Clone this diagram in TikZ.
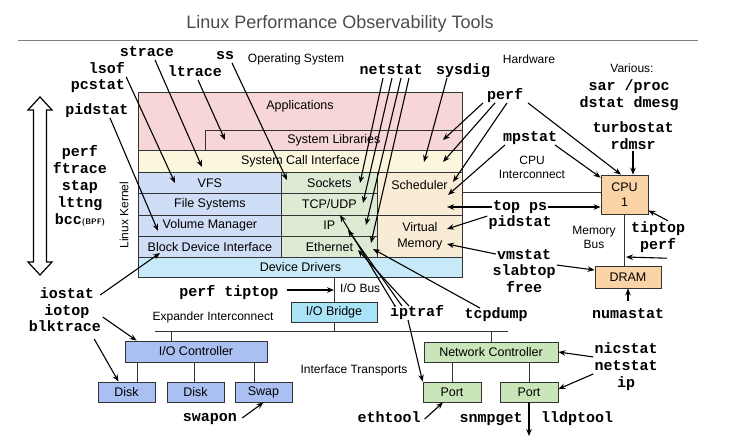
\documentclass[tikz,border=0pt]{standalone}
\usepackage{fontspec}
\setmainfont{Liberation Sans}
\newfontfamily\toolfont{Liberation Mono}
\usetikzlibrary{arrows.meta}
\definecolor{appfill}{RGB}{246,214,214}
\definecolor{sysfill}{RGB}{251,247,220}
\definecolor{blkfill}{RGB}{207,221,246}
\definecolor{netfill}{RGB}{222,235,212}
\definecolor{schedfill}{RGB}{249,236,214}
\definecolor{drvfill}{RGB}{200,234,248}
\definecolor{bridgefill}{RGB}{170,226,246}
\definecolor{iofill}{RGB}{170,191,242}
\definecolor{nicfill}{RGB}{200,230,185}
\definecolor{hwfill}{RGB}{250,212,166}
\tikzset{
  cell/.style={draw=black!80, line width=0.8pt, anchor=north west, inner sep=0pt, font=\fontsize{12.5}{14}\selectfont},
  celltext/.style={inner sep=0pt, font=\fontsize{12.5}{14}\selectfont, align=center},
  hwbox/.style={draw=black!80, line width=0.8pt, inner sep=0pt, align=center, font=\fontsize{12.5}{15}\selectfont},
  tool/.style={font=\toolfont\bfseries\fontsize{15}{17}\selectfont, inner sep=1pt, text height=9pt, text depth=2.5pt},
  tools/.style={font=\toolfont\bfseries\fontsize{15}{17}\selectfont, inner sep=1pt, align=center},
  note/.style={font=\fontsize{12}{14}\selectfont, inner sep=1pt, align=center},
  tip/.style={-{Stealth[length=7pt,width=5.5pt]}, line width=1.1pt},
  bus/.style={draw=black!80, line width=0.9pt},
}
\begin{document}
\begin{tikzpicture}[x=1pt,y=-1pt]
\useasboundingbox (0,0) rectangle (730,442);
\fill[white] (0,0) rectangle (730,442);
\node[font=\fontsize{18}{20}\selectfont, text=black!70] (title) at (340,24) {Linux Performance Observability Tools};
\draw[black!50, line width=0.8pt] (18,40) -- (698,40);

\node[cell, fill=appfill, minimum width=324pt, minimum height=58pt] (apps) at (138,92) {};
\node[celltext] (appstext) at (300,106) {Applications};
\node[cell, fill=appfill, minimum width=257pt, minimum height=20pt] (syslib) at (205,130) {System Libraries};
\node[cell, fill=sysfill, minimum width=324pt, minimum height=22pt] (syscall) at (138,150) {System Call Interface};
\foreach \name/\txt [count=\i from 0] in {vfs/VFS, fs/File Systems, vol/Volume Manager, bdi/Block Device Interface}
  \node[cell, fill=blkfill, minimum width=143pt, minimum height=21.25pt] (\name) at (138,{172+21.25*\i}) {\txt};
\foreach \name/\txt [count=\i from 0] in {sock/Sockets, tcp/{TCP/UDP}, ip/IP, eth/Ethernet}
  \node[cell, fill=netfill, minimum width=96pt, minimum height=21.25pt] (\name) at (281,{172+21.25*\i}) {\txt};
\node[cell, fill=schedfill, minimum width=85pt, minimum height=42.5pt] (sched) at (377,172) {};
\node[celltext] (schedtext) at (419.5,185) {Scheduler};
\node[cell, fill=schedfill, minimum width=85pt, minimum height=42.5pt, align=center, font=\fontsize{12.5}{16}\selectfont] (vm) at (377,214.5) {Virtual\\Memory};
\node[cell, fill=drvfill, minimum width=324pt, minimum height=20pt] (drv) at (138,257) {Device Drivers};

\node[hwbox, fill=hwfill, minimum width=47pt, minimum height=39pt] (cpu) at (624.5,194.5) {CPU\\1};
\node[hwbox, fill=hwfill, minimum width=66pt, minimum height=22pt] (dram) at (628,277) {DRAM};
\node[hwbox, fill=bridgefill, minimum width=86pt, minimum height=20pt] (iob) at (334,312) {I/O Bridge};
\node[hwbox, fill=iofill, minimum width=142pt, minimum height=21pt] (ioctl) at (196,351.5) {I/O Controller};
\node[hwbox, fill=iofill, minimum width=57pt, minimum height=20pt] (disk1) at (126.5,392) {Disk};
\node[hwbox, fill=iofill, minimum width=57pt, minimum height=20pt] (disk2) at (195.5,392) {Disk};
\node[hwbox, fill=iofill, minimum width=57pt, minimum height=20pt] (swap) at (263.5,392) {Swap};
\node[hwbox, fill=nicfill, minimum width=134pt, minimum height=20pt] (nc) at (491,352) {Network Controller};
\node[hwbox, fill=nicfill, minimum width=58pt, minimum height=20pt] (port1) at (452,392) {Port};
\node[hwbox, fill=nicfill, minimum width=58pt, minimum height=20pt] (port2) at (529,392) {Port};

\coordinate (icr) at ([yshift=2.5pt]cpu.west);
\draw[bus] (icr) -- (icr -| sched.east);
\draw[bus] (cpu.south) -- (cpu.south |- dram.north);
\draw[bus] (iob.north |- drv.south) -- (iob.north);
\coordinate (expl) at (155,331);
\coordinate (expr) at (508,331);
\draw[bus] (expl) -- (expr);
\draw[bus] (iob.south) -- (iob.south |- expl);
\coordinate (ioup) at ([xshift=47pt]ioctl.north west);
\draw[bus] (ioup) -- (ioup |- expl);
\draw[bus] (nc.north) -- (nc.north |- expl);
\foreach \dx/\d in {13/d1, 70/d2, 130/d3} {
  \coordinate (\d) at ([xshift=\dx pt]ioctl.south west);
  \draw[bus] (\d) -- (\d |- disk1.north);
}
\draw[bus] (port1.north) -- (port1.north |- nc.south);
\draw[bus] (port2.north) -- (port2.north |- nc.south);

\draw[line width=1.2pt, fill=white] (40,97) -- (52,110) -- (46.5,110) -- (46.5,262) -- (52,262) -- (40,275)
  -- (28,262) -- (33.5,262) -- (33.5,110) -- (28,110) -- cycle;

\node[note] (os) at (296,59) {Operating System};
\node[note] (hw) at (529,59) {Hardware};
\node[note] (various) at (632,68) {Various:};
\node[note] (cpuic) at (532,167) {CPU\\Interconnect};
\node[note] (membus) at (594,237) {Memory\\Bus};
\node[note, anchor=west] (iobus) at (339,288) {I/O Bus};
\node[note] (expic) at (213,317) {Expander Interconnect};
\node[note] (iftr) at (354,370) {Interface Transports};
\node[note, rotate=90] (lk) at (124,215) {Linux Kernel};

\node[tool] (strace) at (147,53) {strace};
\node[tool] (lsof) at (107,70) {lsof};
\node[tool] (pcstat) at (98,86) {pcstat};
\node[tool] (ltrace) at (195,73) {ltrace};
\node[tool] (ss) at (225,56) {ss};
\node[tool] (pidstatl) at (97,111) {pidstat};
\node[tools] (kerntools) at (80,186) {perf\\ftrace\\stap\\lttng\\bcc{\sffamily\bfseries\fontsize{8}{9}\selectfont(BPF)}};
\node[tool] (netstat) at (391,71) {netstat};
\node[tool] (sysdig) at (463,71) {sysdig};
\node[tool] (perfhw) at (505,96) {perf};
\node[tools] (sarproc) at (629,95) {sar /proc\\dstat dmesg};
\node[tools] (turbo) at (633,136) {turbostat\\rdmsr};
\node[tool] (mpstat) at (530,138) {mpstat};
\node[tool] (topps) at (520,207) {top ps};
\node[tool] (pidstatr) at (520,223) {pidstat};
\node[tools] (tiptopr) at (658,237.5) {tiptop\\perf};
\node[tool] (vmstat) at (524,256) {vmstat};
\node[tool] (slabtop) at (524,272) {slabtop};
\node[tool] (free) at (524,289) {free};
\node[tool] (numastat) at (628,315) {numastat};
\node[tool] (iostat) at (67,295) {iostat};
\node[tool] (iotop) at (67,312) {iotop};
\node[tool] (blktrace) at (65,328) {blktrace};
\node[tool] (perftiptop) at (229,293) {perf tiptop};
\node[tool] (swapon) at (210,418) {swapon};
\node[tool] (iptraf) at (417,313) {iptraf};
\node[tool] (tcpdump) at (496,315) {tcpdump};
\node[tool] (nicstat) at (626,350) {nicstat};
\node[tool] (netstatn) at (626,367) {netstat};
\node[tool] (ipn) at (626,384) {ip};
\node[tool] (ethtool) at (389,419) {ethtool};
\node[tool] (snmpget) at (491,419) {snmpget};
\node[tool] (lldptool) at (577,419) {lldptool};

\coordinate (t-strace) at (202,167);
\coordinate (t-lsof) at (175,183);
\coordinate (t-ltrace) at (225,140);
\coordinate (t-ss) at (287,180);
\coordinate (t-pidstat) at (158,231);
\coordinate (t-sysdig) at (424,162);
\coordinate (t-mpstat) at (448,195);
\coordinate (t-topps) at (447,207);
\coordinate (t-pidstatr) at (447,229);
\coordinate (t-vmstat) at (447,244);
\coordinate (t-bus) at (626,257);
\coordinate (t-iostat) at (160,253);
\coordinate (t-tcpdump) at (373,249);
\coordinate (nicout) at (529,436);
\coordinate (n1) at (360,183);
\coordinate (n2) at (363,203);
\coordinate (n3) at (366,225);
\coordinate (n4) at (371,243);
\coordinate (p1) at (443,140);
\coordinate (p2) at (443,162);
\coordinate (p3) at (453,182);
\coordinate (i1) at (340,215);
\coordinate (i2) at (348,230);
\coordinate (i3) at (358,250);

\draw[tip] ([xshift=8pt]strace.south) -- (t-strace);
\draw[tip] (lsof.south east) -- (t-lsof);
\draw[tip] ([xshift=3pt]ltrace.south) -- (t-ltrace);
\draw[tip] ([xshift=7pt]ss.south) -- (t-ss);
\draw[tip] ([xshift=13pt]pidstatl.south) -- (t-pidstat);
\foreach \dx/\t in {-8/n1, 1/n2, 10/n3, 18/n4}
  \draw[tip] ([xshift=\dx pt]netstat.south) -- (\t);
\draw[tip] ([xshift=-16pt]sysdig.south) -- (t-sysdig);
\foreach \dx/\t in {-22/p1, -10/p2, 2/p3}
  \draw[tip] ([xshift=\dx pt]perfhw.south) -- (\t);
\draw[tip] ([xshift=23pt]perfhw.south) -- ([xshift=-3.5pt]cpu.north);
\draw[tip] ([xshift=-25pt]mpstat.south) -- (t-mpstat);
\draw[tip] ([xshift=25pt]mpstat.south) -- ([yshift=-3pt]cpu.north west);
\draw[tip] (turbo.south) -- (turbo.south |- cpu.north);
\draw[tip] (topps.west) -- (t-topps);
\draw[tip] (topps.east) -- (topps.east -| cpu.west);
\draw[tip] (pidstatr.north west) -- (t-pidstatr);
\draw[tip] ([yshift=2pt]vmstat.west) -- (t-vmstat);
\draw[tip] (slabtop.north east) -- ([yshift=7pt]dram.west);
\draw[tip] ([xshift=10pt]tiptopr.north) -- ([yshift=4pt]cpu.south east);
\draw[tip] ([xshift=9pt,yshift=-4pt]tiptopr.south) -- (t-bus);
\draw[tip] ([yshift=7pt]numastat.north) -- (dram.south);
\draw[tip] ([xshift=5pt]iostat.east) -- (t-iostat);
\draw[tip] ([xshift=12pt,yshift=-5pt]iotop.east) -- ([xshift=12pt]ioctl.north west);
\draw[tip] ([xshift=-8pt,yshift=-4pt]blktrace.south east) -- ([xshift=-8pt]disk1.north);
\coordinate (ptstart) at ([xshift=7pt,yshift=3pt]perftiptop.east);
\draw[tip] (ptstart) -- (ptstart -| iob.north);
\draw[tip] ([xshift=4pt]swapon.east) -- (swap.south);
\foreach \dx/\t in {-22/i1, -15/i2, -8/i3}
  \draw[tip] ([xshift=\dx pt]iptraf.north) -- (\t);
\draw[tip] ([xshift=-9pt]iptraf.south) -- (port1.north west);
\draw[tip] ([xshift=-16pt]tcpdump.north) -- (t-tcpdump);
\draw[tip] (nicstat.south west) -- (nc.east);
\draw[tip] (netstatn.south west) -- ([yshift=3pt]port2.east);
\draw[tip] ([xshift=3pt]ethtool.east) -- ([xshift=-9pt]port1.south);
\draw[tip] (port2.south) -- (nicout);
\end{tikzpicture}
\end{document}
